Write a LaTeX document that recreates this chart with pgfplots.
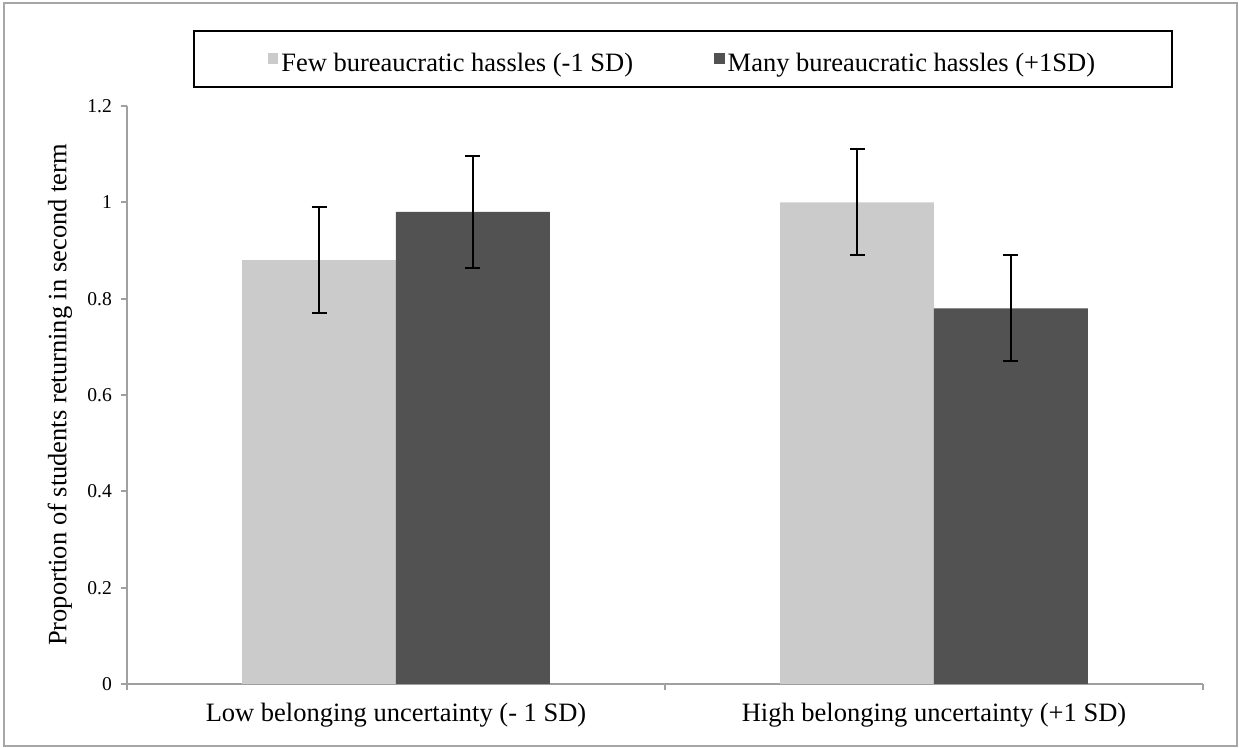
\documentclass[border=0pt]{standalone}
\usepackage{pgfplots}
\pgfplotsset{compat=1.18}
\usepackage{fontspec}
\setmainfont{Liberation Serif}
\definecolor{lightbar}{RGB}{203,203,203}
\definecolor{darkbar}{RGB}{82,82,82}
\definecolor{axisgray}{RGB}{160,160,160}
\definecolor{framegray}{RGB}{166,166,166}
\begin{document}
\begin{tikzpicture}
\useasboundingbox (-63.5pt,-32pt) rectangle (556pt,342pt);
\draw[framegray, line width=1pt] (-61.5pt,-31pt) rectangle (555pt,340.5pt);
\begin{axis}[
  at={(0pt,0pt)}, anchor=south west,
  scale only axis, width=538pt, height=289pt,
  xmin=-0.5, xmax=1.5, ymin=0, ymax=1.2,
  ybar=0pt, bar width=0.286,
  axis lines*=left,
  axis line style={axisgray, line width=1pt},
  tick align=outside, major tick length=3pt,
  tick style={axisgray, line width=1pt},
  /pgf/number format/assume math mode=true,
  xtick={-0.5,0.5,1.5}, xticklabels={,,},
  extra x ticks={0,1},
  extra x tick labels={Low belonging uncertainty (- 1 SD), High belonging uncertainty (+1 SD)},
  extra x tick style={major tick length=0pt},
  xticklabel style={font=\fontsize{13.25}{16}\selectfont, yshift=-6pt},
  ytick={0,0.2,0.4,0.6,0.8,1,1.2},
  yticklabels={0,0.2,0.4,0.6,0.8,1,1.2},
  yticklabel style={font=\fontsize{9.8}{11}\selectfont, xshift=-1pt},
  ylabel={Proportion of students returning in second term},
  ylabel style={at={(axis description cs:-0.0445,0.5)}, anchor=south, font=\fontsize{13.25}{16}\selectfont},
  legend columns=2,
  legend image code/.code={\fill[#1] (0pt,-2.5pt) rectangle (5.3pt,2.8pt);},
  legend style={at={(axis description cs:0.5167,1.0813)}, anchor=center,
    draw=black, line width=1pt, font=\fontsize{13.25}{16}\selectfont,
    inner xsep=37pt, inner ysep=3pt,
    nodes={inner xsep=1.5pt, inner ysep=0pt, text height=17.5pt, text depth=4.5pt},
    /tikz/every even column/.append style={column sep=39pt}},
]
\addplot[fill=lightbar, draw=none,
  error bars/.cd, y dir=both, y explicit,
  error bar style={draw=black, line width=1pt},
  error mark options={draw=black, line width=1pt, mark size=3.75pt, rotate=90}]
  coordinates {(0,0.88) +- (0,0.11) (1,1.0) +- (0,0.11)};
\addplot[fill=darkbar, draw=none,
  error bars/.cd, y dir=both, y explicit,
  error bar style={draw=black, line width=1pt},
  error mark options={draw=black, line width=1pt, mark size=3.75pt, rotate=90}]
  coordinates {(0,0.98) +- (0,0.117) (1,0.78) +- (0,0.11)};
\legend{Few bureaucratic hassles (-1 SD), Many bureaucratic hassles (+1SD)}
\end{axis}
\end{tikzpicture}
\end{document}
